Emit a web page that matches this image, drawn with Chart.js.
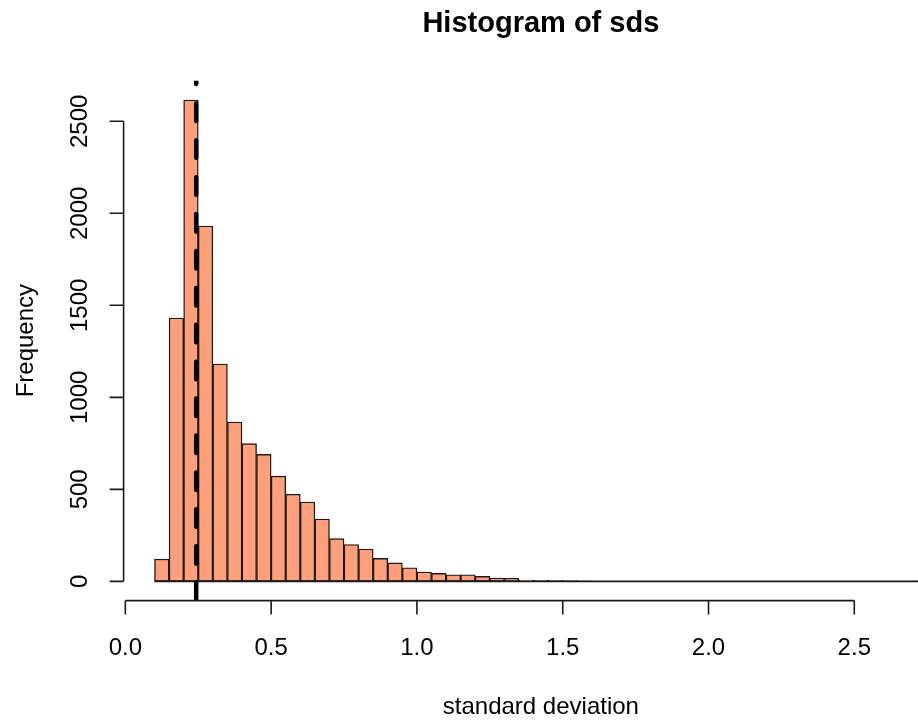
<!DOCTYPE html>
<html>
<head>
<meta charset="utf-8">
<script src="https://cdn.jsdelivr.net/npm/chart.js@4/dist/chart.umd.min.js"></script>
<style>
html,body{margin:0;padding:0;background:#fff;overflow:hidden;}
canvas{display:block;}
</style>
</head>
<body>
<canvas id="chart" width="1000" height="721"></canvas>
<script>
// histogram breaks (bin edges) and counts per bin
const breaks=[0.10,0.15,0.20,0.25,0.30,0.35,0.40,0.45,0.50,0.55,0.60,0.65,0.70,0.75,0.80,0.85,0.90,0.95,
  1.00,1.05,1.10,1.15,1.20,1.25,1.30,1.35,1.40,1.45,1.50,1.55,1.60,1.65,1.70,1.75,1.80,1.85,1.90,1.95,
  2.00,2.05,2.10,2.15,2.20,2.25,2.30,2.35,2.40,2.45,2.50,2.55,2.60,2.65,2.70,2.75];
const counts=[121,1431,2616,1931,1181,866,748,690,572,473,431,339,232,200,176,125,100,74,
  51,43,36,36,27,18,16,7,6,5,4,3,0,0,0,0,0,0,0,0,
  0,0,0,0,0,0,0,0,0,0,0,0,0,0,1];
const medianSd=0.243;

const xTicks=[0,0.5,1,1.5,2,2.5];
const xTickLabels=["0.0","0.5","1.0","1.5","2.0","2.5"];
const yTicks=[0,500,1000,1500,2000,2500];
const yTickLabels=["0","500","1000","1500","2000","2500"];

const mainTitle="Histogram of sds";
const xTitle="standard deviation";
const yTitle="Frequency";

// R style ranges: data range stretched 4% each side
const xLo=breaks[0], xHi=breaks[breaks.length-1];
const yMax=Math.max(...counts);
const xPad=(xHi-xLo)*0.04, yPad=yMax*0.04;

const barData=counts.map((c,i)=>({x:(breaks[i]+breaks[i+1])/2,y:c}));

const FONT='"Liberation Sans", Arial, sans-serif';

// axes drawn like base R (lines only span the ticks)
const rAxes={
  id:"rAxes",
  afterDraw(chart){
    const {ctx,chartArea:a,scales:{x,y}}=chart;
    ctx.save();
    ctx.strokeStyle="#1a1a1a";
    ctx.lineWidth=1.6;
    ctx.beginPath();
    const x0=x.getPixelForValue(xTicks[0]), x1=x.getPixelForValue(xTicks[xTicks.length-1]);
    ctx.moveTo(x0,a.bottom);ctx.lineTo(x1,a.bottom);
    xTicks.forEach(v=>{const p=x.getPixelForValue(v);ctx.moveTo(p,a.bottom);ctx.lineTo(p,a.bottom+14);});
    const y0=y.getPixelForValue(yTicks[0]), y1=y.getPixelForValue(yTicks[yTicks.length-1]);
    ctx.moveTo(a.left,y0);ctx.lineTo(a.left,y1);
    yTicks.forEach(v=>{const p=y.getPixelForValue(v);ctx.moveTo(a.left,p);ctx.lineTo(a.left-14,p);});
    ctx.stroke();

    ctx.fillStyle="#000";
    ctx.textBaseline="alphabetic";
    ctx.textAlign="center";
    ctx.font="24px "+FONT;
    xTicks.forEach((v,i)=>ctx.fillText(xTickLabels[i],x.getPixelForValue(v),a.bottom+54));
    yTicks.forEach((v,i)=>{
      ctx.save();
      ctx.translate(a.left-36.3,y.getPixelForValue(v));
      ctx.rotate(-Math.PI/2);
      ctx.fillText(yTickLabels[i],0,0);
      ctx.restore();
    });
    const cx=(a.left+a.right)/2, cy=(a.top+a.bottom)/2;
    ctx.fillText(xTitle,cx,a.bottom+113.7);
    ctx.save();
    ctx.translate(32.7,cy);
    ctx.rotate(-Math.PI/2);
    ctx.fillText(yTitle,0,0);
    ctx.restore();
    ctx.font="bold 29px "+FONT;
    ctx.fillText(mainTitle,cx,31.7);
    ctx.restore();
  }
};

new Chart(document.getElementById("chart"),{
  type:"bar",
  data:{
    datasets:[
      {
        type:"line",
        label:"median",
        data:[{x:medianSd,y:-yPad},{x:medianSd,y:yMax+yPad}],
        borderColor:"#000",
        borderWidth:4.5,
        borderDash:[17.5,19.4],
        borderCapStyle:"round",
        pointRadius:0,
        order:0
      },
      {
        type:"line",
        label:"zero",
        data:[{x:xLo,y:0},{x:xHi,y:0}],
        borderColor:"#1a1a1a",
        borderWidth:1.6,
        pointRadius:0,
        order:1
      },
      {
        label:"sds",
        data:barData,
        backgroundColor:"#FFA07A",
        borderColor:"#1a1a1a",
        borderWidth:1.4,
        borderSkipped:false,
        barPercentage:1,
        categoryPercentage:1,
        order:2
      }
    ]
  },
  options:{
    responsive:false,
    animation:false,
    devicePixelRatio:1,
    layout:{padding:{left:123.6,right:41.9,top:80.7,bottom:120.4}},
    plugins:{legend:{display:false},title:{display:false},tooltip:{enabled:false}},
    scales:{
      x:{type:"linear",display:false,offset:false,min:xLo-xPad,max:xHi+xPad},
      y:{type:"linear",display:false,min:-yPad,max:yMax+yPad}
    }
  },
  plugins:[rAxes]
});
</script>
</body>
</html>
